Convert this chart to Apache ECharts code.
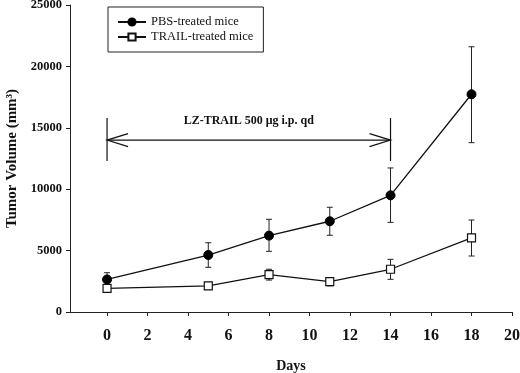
<!DOCTYPE html>
<html><head><meta charset="utf-8">
<script src="https://cdn.jsdelivr.net/npm/echarts@6/dist/echarts.min.js"></script>
<style>html,body{margin:0;padding:0;background:#fff}#c{width:520px;height:373px}</style>
</head><body><div id="c"></div>
<script>
const days = [0, 5, 8, 11, 14, 18];
const pbsMean = [2650, 4640, 6220, 7390, 9500, 17730];
const pbsLow  = [2100, 3640, 4940, 6250, 7300, 13790];
const pbsHigh = [3200, 5640, 7550, 8530, 11730, 21600];
const trailMean = [1930, 2120, 3040, 2470, 3480, 6030];
const trailLow  = [1750, 1850, 2600, 2130, 2660, 4560];
const trailHigh = [2150, 2400, 3480, 2800, 4290, 7490];
const xTicks = [0, 2, 4, 6, 8, 10, 12, 14, 16, 18, 20];
const annStart = 0, annEnd = 14, annY = 14000, annBarLow = 12300, annBarHigh = 15800, annTextY = 15600;
const annText = 'LZ-TRAIL 500 μg i.p. qd';

const serif = '"Liberation Serif", "DejaVu Serif", serif';
const chart = echarts.init(document.getElementById('c'), null, {renderer: 'canvas'});

function errRender(params, api) {
  const x = api.value(0);
  const lo = api.coord([x, api.value(1)]);
  const hi = api.coord([x, api.value(2)]);
  const w = 3;
  const st = {stroke: '#222', lineWidth: 1};
  return {type: 'group', children: [
    {type: 'line', shape: {x1: lo[0], y1: lo[1], x2: hi[0], y2: hi[1]}, style: st},
    {type: 'line', shape: {x1: lo[0]-w, y1: lo[1], x2: lo[0]+w, y2: lo[1]}, style: st},
    {type: 'line', shape: {x1: hi[0]-w, y1: hi[1], x2: hi[0]+w, y2: hi[1]}, style: st}
  ]};
}

function annRender(params, api) {
  const a = api.coord([api.value(0), api.value(2)]);
  const b = api.coord([api.value(1), api.value(2)]);
  const aLo = api.coord([api.value(0), api.value(3)]);
  const aHi = api.coord([api.value(0), api.value(4)]);
  const bLo = api.coord([api.value(1), api.value(3)]);
  const bHi = api.coord([api.value(1), api.value(4)]);
  const t = api.coord([(api.value(0)+api.value(1))/2, api.value(5)]);
  const st = {stroke: '#111', lineWidth: 1.2, fill: null};
  const L = 21, H = 6.5;
  return {type: 'group', children: [
    {type: 'line', shape: {x1: a[0], y1: a[1], x2: b[0], y2: b[1]}, style: st},
    {type: 'line', shape: {x1: aLo[0], y1: aLo[1], x2: aHi[0], y2: aHi[1]}, style: st},
    {type: 'line', shape: {x1: bLo[0], y1: bLo[1], x2: bHi[0], y2: bHi[1]}, style: st},
    {type: 'polyline', shape: {points: [[a[0]+L, a[1]-H], [a[0], a[1]], [a[0]+L, a[1]+H]]}, style: st},
    {type: 'polyline', shape: {points: [[b[0]-L, b[1]-H], [b[0], b[1]], [b[0]-L, b[1]+H]]}, style: st},
    {type: 'text', x: t[0], y: t[1], style: {text: annText, font: 'bold 12px ' + serif, fill: '#111', align: 'center', verticalAlign: 'middle'}}
  ]};
}

chart.setOption({
  animation: false,
  backgroundColor: '#fff',
  grid: {left: 70, right: 8, top: 5, bottom: 61, outerBoundsMode: 'none', containLabel: false},
  legend: {
    left: 108, top: 7, orient: 'vertical', itemWidth: 28, itemHeight: 9, itemGap: 1,
    padding: [8, 10, 8, 9], borderColor: '#222', borderWidth: 1,
    textStyle: {fontFamily: serif, fontSize: 12.5, color: '#111', lineHeight: 14},
    data: ['PBS-treated mice', 'TRAIL-treated mice']
  },
  xAxis: {
    type: 'value', min: -1.83, max: 20,
    name: 'Days', nameLocation: 'middle', nameGap: 47,
    nameTextStyle: {fontFamily: serif, fontWeight: 'bold', fontSize: 14, color: '#111'},
    axisLine: {onZero: false, lineStyle: {color: '#222', width: 1}},
    axisTick: {show: true, length: 4, customValues: xTicks, lineStyle: {color: '#222'}},
    axisLabel: {customValues: xTicks, fontFamily: serif, fontWeight: 'bold', fontSize: 16, color: '#111', margin: 16},
    splitLine: {show: false}
  },
  yAxis: {
    type: 'value', min: 0, max: 25000, interval: 5000,
    name: 'Tumor Volume (mm³)', nameLocation: 'middle', nameGap: 50, nameRotate: 90,
    nameTextStyle: {fontFamily: serif, fontWeight: 'bold', fontSize: 15, color: '#111'},
    axisLine: {show: true, onZero: false, lineStyle: {color: '#222', width: 1}},
    axisTick: {show: true, length: 4, lineStyle: {color: '#222'}},
    axisLabel: {fontFamily: serif, fontWeight: 'bold', fontSize: 12.5, color: '#111', margin: 8,
      formatter: v => String(v)},
    splitLine: {show: false}
  },
  series: [
    {type: 'custom', name: 'annot', renderItem: annRender, silent: true, z: 1,
     data: [[annStart, annEnd, annY, annBarLow, annBarHigh, annTextY]]},
    {type: 'custom', name: 'pbsErr', renderItem: errRender, silent: true, z: 2,
     data: days.map((d, i) => [d, pbsLow[i], pbsHigh[i]])},
    {type: 'custom', name: 'trailErr', renderItem: errRender, silent: true, z: 2,
     data: days.map((d, i) => [d, trailLow[i], trailHigh[i]])},
    {type: 'line', name: 'PBS-treated mice', z: 3,
     data: days.map((d, i) => [d, pbsMean[i]]),
     symbol: 'circle', symbolSize: 9, showAllSymbol: true,
     lineStyle: {color: '#111', width: 1.3},
     itemStyle: {color: '#000', borderColor: '#000', borderWidth: 1}},
    {type: 'line', name: 'TRAIL-treated mice', z: 3,
     data: days.map((d, i) => [d, trailMean[i]]),
     symbol: 'rect', symbolSize: 8, showAllSymbol: true,
     lineStyle: {color: '#111', width: 1.3},
     itemStyle: {color: '#fff', borderColor: '#111', borderWidth: 1.2}}
  ]
});
</script></body></html>
